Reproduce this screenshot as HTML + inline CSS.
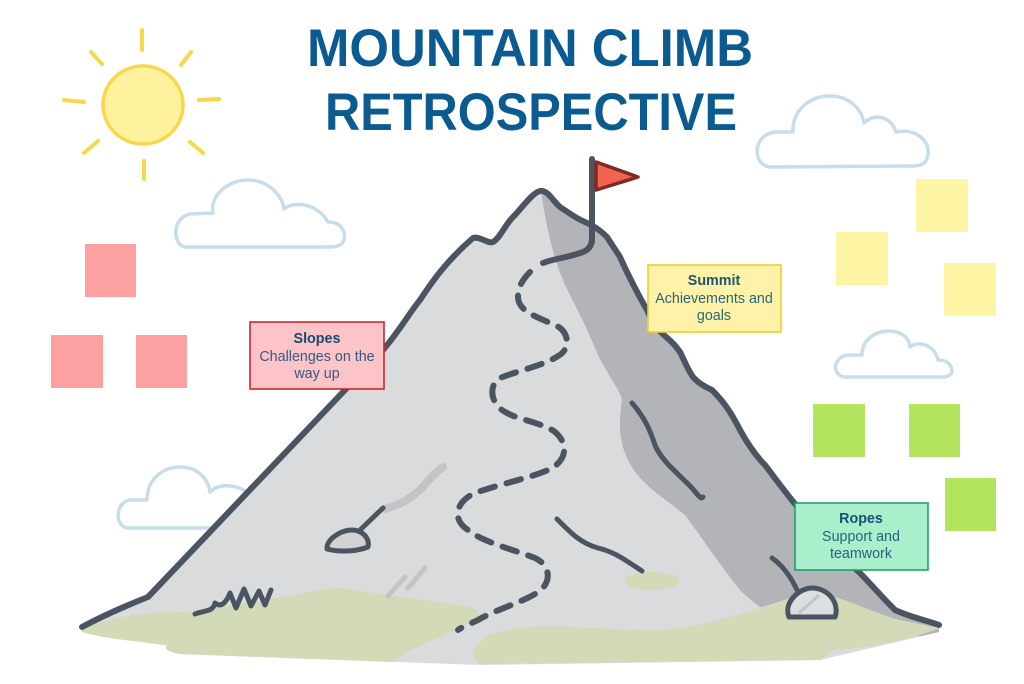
<!DOCTYPE html>
<html><head><meta charset="utf-8">
<style>
html,body{margin:0;padding:0;background:#fff;}
body{width:1024px;height:684px;overflow:hidden;}
svg{display:block;}
</style></head>
<body>
<svg width="1024" height="684" viewBox="0 0 1024 684" xmlns="http://www.w3.org/2000/svg">
<defs>
<clipPath id="mclip">
<path d="M82,627 Q110,612 148,597 L383,350 C400,330 410,312 420,300 C430,285 445,262 473,238 C480,236 488,244 493,242 C500,238 505,225 513,217 C522,208 532,193 540,191 C548,190 552,200 560,207 C568,212 575,218 585,222 C595,226 602,232 607,237 C612,245 617,252 620,257 C628,275 640,298 647,310 C652,322 658,330 665,336 C672,342 675,345 680,352 C685,362 688,370 693,377 C700,385 708,388 712,390 C722,400 730,410 740,430 C750,448 758,458 765,465 C775,478 785,492 800,510 C820,535 840,555 859,572 C870,583 880,595 895,610 C910,617 925,620 939,625 L939,632 L820,660 L480,665 L180,654 L168,646 L82,632 Z"/>
</clipPath>
</defs>

<!-- clouds -->
<g fill="#fff" stroke="#c6ddec" stroke-width="3.5" stroke-linejoin="round">
<path d="M185,247 C172,244 172,218 190,214 L213,213 C210,195 228,180 248,180 C268,180 282,195 284,209 C295,200 318,204 328,222 C340,222 346,230 344,240 C342,246 336,247 330,247 Z"/>
<path d="M770,167 C752,165 752,135 775,132 L793,132 C792,110 810,96 830,96 C850,96 862,110 864,123 C872,114 890,114 896,132 C915,128 930,140 928,155 C926,165 920,166 912,166 Z"/>
<path d="M845,377 C832,376 832,357 848,355 L862,355 C862,340 875,331 889,331 C903,331 910,340 910,347 C918,340 935,345 938,360 C950,360 955,370 950,375 L945,377 Z"/>
<path d="M128,528 C115,527 114,503 130,500 L147,500 C147,480 162,467 180,467 C197,467 208,478 210,492 C220,482 240,485 250,495 L250,528 Z"/>
</g>

<!-- mountain fill -->
<rect x="0" y="150" width="1024" height="534" fill="#dadbdc" clip-path="url(#mclip)"/>
<path clip-path="url(#mclip)" fill="#b2b4b7" d="M540,185 C546,225 552,255 565,285 C575,305 588,330 598,355 C608,375 620,390 622,400 C619,420 618,440 628,460 C640,485 665,498 685,515 C700,535 720,565 740,590 C750,600 760,608 775,615 L830,628 L960,640 L960,180 Z"/>

<!-- ground -->
<g fill="#d3dab7">
<path d="M82,628 C100,620 130,615 160,612 C175,610 190,614 200,612 C230,605 260,600 290,596 C310,592 325,588 340,588 C360,590 375,594 395,596 C420,600 450,603 470,607 C482,611 480,617 468,624 C445,636 410,648 392,662 L180,654 C165,652 162,646 170,645 C140,642 100,638 82,632 Z"/>
<path d="M473,656 C475,640 490,632 520,628 C560,624 600,630 650,630 C690,630 720,620 745,612 C770,606 795,594 815,593 C840,595 870,612 900,620 C915,623 930,626 940,628 C910,640 870,648 835,650 C826,652 828,657 820,660 L480,664 Z"/>
<ellipse cx="652" cy="581" rx="27" ry="9"/>
</g>

<!-- light streaks -->
<g fill="none" stroke="#c3c4c6" stroke-linecap="round">
<path d="M385,509 C398,505 410,500 423,487 C430,478 436,472 443,467" stroke-width="8"/>
<path d="M388,596 L405,577" stroke-width="5"/>
<path d="M408,588 L425,568" stroke-width="5"/>
</g>

<!-- inner lines -->
<g fill="none" stroke="#4b5561" stroke-width="5" stroke-linecap="round" stroke-linejoin="round">
<path d="M632,403 C645,418 650,430 655,445 C662,462 680,475 692,488 C698,495 701,500 703,497"/>
<path d="M557,519 C570,532 580,543 598,548 C615,552 625,560 642,571"/>
<path d="M772,558 C782,565 790,575 797,590"/>
<path d="M383,508 L360,530"/>
<path d="M195,614 C205,610 213,612 215,603 C221,608 226,603 230,593 L236,608 L244,589 L251,606 L259,591 L265,605 L271,590"/>
</g>
<path d="M327,549 C326,540 340,530 352,530 C362,530 370,538 368,547 C355,552 338,552 327,549 Z" fill="#d0d2d4" stroke="#4b5561" stroke-width="5" stroke-linejoin="round"/>
<path d="M789,617 C783,602 800,588 812,588 C828,588 840,603 835,617 Z" fill="#dcdee0" stroke="#4b5561" stroke-width="5" stroke-linejoin="round"/>
<path d="M800,612 L818,596" stroke="#c2c4c7" stroke-width="3" stroke-linecap="round"/>

<!-- mountain outline -->
<path fill="none" stroke="#4b5561" stroke-width="6" stroke-linecap="round" stroke-linejoin="round" d="M82,627 Q110,612 148,597 L383,350 C400,330 410,312 420,300 C430,285 445,262 473,238 C480,236 488,244 493,242 C500,238 505,225 513,217 C522,208 532,193 540,191 C548,190 552,200 560,207 C568,212 575,218 585,222 C595,226 602,232 607,237 C612,245 617,252 620,257 C628,275 640,298 647,310 C652,322 658,330 665,336 C672,342 675,345 680,352 C685,362 688,370 693,377 C700,385 708,388 712,390 C722,400 730,410 740,430 C750,448 758,458 765,465 C775,478 785,492 800,510 C820,535 840,555 859,572 C870,583 880,595 895,610 C910,617 925,620 939,625"/>

<!-- trail -->
<g fill="none" stroke="#4b5561" stroke-width="6" stroke-linecap="round" stroke-linejoin="round">
<path d="M592,238 C592,250 585,252 570,256 C558,259 550,260 543,263"/>
<path stroke-dasharray="15 12" d="M530,272 C520,282 518,290 518,297 C518,312 540,318 557,326 C570,333 570,350 558,356 C545,365 520,370 500,378 C488,385 490,405 507,413 C520,420 543,423 555,432 C570,445 566,462 548,470 C530,478 500,484 475,493 C455,502 452,520 468,530 C482,542 515,550 535,558 C552,566 552,585 535,594 C520,603 495,610 478,620 C470,624 462,627 458,630"/>
</g>

<!-- flag -->
<line x1="592" y1="159" x2="592" y2="242" stroke="#4b5561" stroke-width="6" stroke-linecap="round"/>
<path d="M596,162 L638,177 L596,190 Z" fill="#f26451" stroke="#7f2a27" stroke-width="3.5" stroke-linejoin="round"/>

<!-- sun -->
<g stroke="#f8d84a" stroke-width="4" stroke-linecap="round">
<line x1="142" y1="30" x2="142" y2="50"/>
<line x1="144" y1="161" x2="144" y2="179"/>
<line x1="64" y1="100" x2="84" y2="102"/>
<line x1="199" y1="100" x2="219" y2="99"/>
<line x1="91" y1="52" x2="102" y2="64"/>
<line x1="191" y1="52" x2="181" y2="65"/>
<line x1="84" y1="153" x2="98" y2="141"/>
<line x1="190" y1="142" x2="203" y2="153"/>
</g>
<ellipse cx="143" cy="105" rx="40" ry="39" fill="#fef29f" stroke="#f8d84a" stroke-width="3.5"/>

<!-- sticky notes -->
<g fill="#fca0a1">
<rect x="85" y="244" width="51" height="53"/>
<rect x="51" y="335" width="52" height="53"/>
<rect x="136" y="335" width="51" height="53"/>
</g>
<g fill="#fdf4a4">
<rect x="916" y="179" width="52" height="53"/>
<rect x="836" y="232" width="52" height="53"/>
<rect x="944" y="263" width="52" height="53"/>
</g>
<g fill="#b3e45e">
<rect x="813" y="404" width="52" height="53"/>
<rect x="909" y="404" width="51" height="53"/>
<rect x="945" y="478" width="51" height="53"/>
</g>

<!-- labels -->
<g font-family="'Liberation Sans', sans-serif" font-size="14.3" text-anchor="middle">
<rect x="250" y="322" width="134" height="67" fill="#fcc4c7" stroke="#d2252e" stroke-width="1.6"/>
<text x="317" y="343" font-weight="bold" fill="#174a73">Slopes</text>
<text x="317" y="361" fill="#355a80">Challenges on the</text>
<text x="317" y="378" fill="#355a80">way up</text>

<rect x="648" y="265" width="133" height="67" fill="#fdf2a8" stroke="#f3cd2c" stroke-width="1.6"/>
<text x="714" y="285" font-weight="bold" fill="#1a5870">Summit</text>
<text x="714" y="303" fill="#2a6677">Achievements and</text>
<text x="714" y="320" fill="#2a6677">goals</text>

<rect x="795" y="503" width="133" height="67" fill="#a9efcc" stroke="#1fa36a" stroke-width="1.6"/>
<text x="861" y="523" font-weight="bold" fill="#174f75">Ropes</text>
<text x="861" y="541" fill="#28607f">Support and</text>
<text x="861" y="558" fill="#28607f">teamwork</text>
</g>

<!-- title -->
<g font-family="'Liberation Sans', sans-serif" font-weight="bold" font-size="53" fill="#0b5a90">
<text x="307" y="66" textLength="446" lengthAdjust="spacingAndGlyphs">MOUNTAIN CLIMB</text>
<text x="325" y="130" textLength="412" lengthAdjust="spacingAndGlyphs">RETROSPECTIVE</text>
</g>
</svg>
</body></html>
